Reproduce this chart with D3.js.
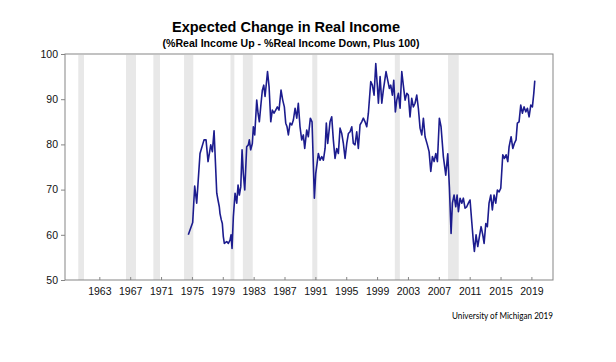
<!DOCTYPE html>
<html>
<head>
<meta charset="utf-8">
<script src="https://cdn.jsdelivr.net/npm/d3@7"></script>
<style>
  body { margin: 0; background: #fff; }
  svg { display: block; font-family: "Liberation Sans", Arial, sans-serif; }
</style>
</head>
<body>
<svg id="chart"></svg>
<script>
// values (decimal year, index value)
const years = [
  1974.53, 1975.10, 1975.36, 1975.62, 1976.05, 1976.57, 1976.83, 1977.09, 1977.44, 1977.65,
  1977.87, 1978.22, 1978.38, 1978.55, 1978.64, 1978.81, 1978.94, 1979.07, 1979.20, 1979.51,
  1979.72, 1979.94, 1980.07, 1980.20, 1980.37, 1980.59, 1980.81, 1980.98, 1981.15, 1981.33,
  1981.50, 1981.66, 1981.85, 1982.10, 1982.31, 1982.44, 1982.62, 1982.83, 1982.96, 1983.14,
  1983.40, 1983.57, 1983.74, 1983.96, 1984.13, 1984.31, 1984.48, 1984.61, 1984.80, 1985.00,
  1985.22, 1985.42, 1985.64, 1985.86, 1986.07, 1986.29, 1986.55, 1986.77, 1986.98, 1987.16,
  1987.33, 1987.50, 1987.72, 1987.94, 1988.15, 1988.37, 1988.59, 1988.79, 1989.01, 1989.23,
  1989.44, 1989.62, 1989.88, 1990.09, 1990.35, 1990.57, 1990.87, 1991.05, 1991.22, 1991.39,
  1991.61, 1991.83, 1992.04, 1992.26, 1992.42, 1992.60, 1992.90, 1993.12, 1993.33, 1993.55,
  1993.77, 1993.98, 1994.20, 1994.42, 1994.63, 1994.85, 1995.07, 1995.28, 1995.50, 1995.72,
  1995.92, 1996.14, 1996.36, 1996.57, 1996.79, 1997.01, 1997.22, 1997.44, 1997.66, 1997.87,
  1998.18, 1998.39, 1998.61, 1998.83, 1999.04, 1999.17, 1999.39, 1999.61, 1999.81, 2000.16,
  2000.33, 2000.59, 2000.77, 2000.98, 2001.16, 2001.37, 2001.55, 2001.76, 2001.98, 2002.20,
  2002.40, 2002.63, 2002.85, 2003.05, 2003.27, 2003.49, 2003.70, 2003.92, 2004.14, 2004.35,
  2004.57, 2004.79, 2005.00, 2005.22, 2005.52, 2005.74, 2005.96, 2006.17, 2006.39, 2006.61,
  2006.82, 2007.07, 2007.29, 2007.59, 2007.90, 2008.16, 2008.37, 2008.59, 2008.76, 2008.98,
  2009.20, 2009.37, 2009.54, 2009.76, 2009.98, 2010.18, 2010.40, 2010.62, 2010.83, 2011.05,
  2011.27, 2011.48, 2011.61, 2011.83, 2012.05, 2012.26, 2012.48, 2012.70, 2012.87, 2013.09,
  2013.29, 2013.51, 2013.74, 2013.94, 2014.16, 2014.38, 2014.59, 2014.81, 2015.03, 2015.29,
  2015.50, 2015.72, 2015.94, 2016.11, 2016.37, 2016.59, 2016.79, 2017.01, 2017.18, 2017.40,
  2017.62, 2017.83, 2018.05, 2018.27, 2018.48, 2018.70, 2018.92, 2019.13, 2019.31, 2019.44
];
const income = [
  60.0, 62.7, 70.8, 67.0, 78.0, 81.0, 81.0, 76.2, 79.9, 78.4,
  83.0, 69.2, 67.7, 66.2, 64.7, 63.3, 62.5, 59.6, 58.1, 58.5,
  58.1, 58.8, 60.0, 57.0, 64.0, 69.2, 67.0, 71.0, 68.8, 70.6,
  78.8, 73.6, 69.9, 79.5, 79.9, 81.0, 78.8, 80.2, 83.9, 82.1,
  89.8, 86.9, 85.0, 89.1, 92.0, 93.1, 90.6, 92.8, 96.1, 92.8,
  85.0, 87.6, 86.9, 87.6, 88.3, 87.6, 92.0, 89.8, 88.3, 84.7,
  83.9, 82.1, 84.7, 84.3, 85.4, 88.0, 85.8, 89.1, 83.9, 81.0,
  82.1, 79.1, 83.2, 81.7, 85.8, 85.0, 68.1, 73.6, 75.8, 78.0,
  76.5, 77.3, 76.5, 79.1, 84.7, 80.2, 85.0, 86.1, 81.0, 76.9,
  79.1, 78.0, 83.6, 82.4, 80.2, 76.9, 80.2, 82.4, 82.8, 83.9,
  80.2, 79.9, 82.8, 79.1, 84.3, 85.0, 85.8, 85.0, 83.9, 86.9,
  93.9, 93.1, 90.9, 97.9, 92.8, 89.1, 95.0, 89.1, 92.0, 96.1,
  94.6, 92.4, 93.1, 90.9, 94.2, 87.2, 89.8, 91.3, 88.0, 96.1,
  93.1, 89.8, 91.3, 90.9, 86.1, 90.2, 88.3, 89.1, 90.9, 88.0,
  83.6, 82.1, 85.8, 81.7, 79.9, 78.4, 74.0, 77.3, 76.2, 78.0,
  76.2, 85.8, 83.9, 77.3, 73.2, 77.9, 70.6, 60.3, 67.0, 68.8,
  66.2, 68.8, 65.1, 68.1, 67.0, 68.1, 65.9, 66.2, 67.0, 67.7,
  62.9, 58.5, 56.3, 60.0, 57.4, 59.6, 61.8, 60.0, 58.1, 62.5,
  61.8, 67.0, 68.8, 65.5, 68.8, 67.0, 69.9, 69.5, 70.3, 77.7,
  76.9, 77.7, 76.2, 79.5, 81.7, 79.1, 80.2, 81.0, 84.7, 85.0,
  88.7, 86.9, 88.3, 87.2, 88.0, 86.1, 88.7, 88.3, 91.3, 94.1
];

// shaded periods
const shadeStart = [1960.27, 1966.46, 1970.0, 1973.98, 1980.0, 1981.6, 1990.6, 2001.3, 2008.2];
const shadeEnd   = [1961.01, 1967.75, 1970.86, 1975.18, 1980.5, 1982.88, 1991.25, 2001.95, 2009.58];

const xTicks = [1963, 1967, 1971, 1975, 1979, 1983, 1987, 1991, 1995, 1999, 2003, 2007, 2011, 2015, 2019];
const yTicks = [50, 60, 70, 80, 90, 100];

const width = 616;
const height = 362;
const margin = { top: 54, right: 63, bottom: 82, left: 65 };

const svg = d3.select('#chart')
    .attr('width', width)
    .attr('height', height);

const x = d3.scaleLinear()
    .domain([1958.55, 2021.8])
    .range([margin.left, width - margin.right]);

const y = d3.scaleLinear()
    .domain([50, 100])
    .range([height - margin.bottom, margin.top]);

// grey bars
svg.append('g')
    .selectAll('rect')
    .data(shadeStart.map((s, i) => [s, shadeEnd[i]]))
    .join('rect')
    .attr('x', d => x(d[0]))
    .attr('width', d => x(d[1]) - x(d[0]))
    .attr('y', y(100) + 1)
    .attr('height', y(50) - y(100) - 1)
    .attr('fill', '#e8e8e8');

// frame round the plot
svg.append('rect')
    .attr('x', x.range()[0])
    .attr('y', y(100))
    .attr('width', x.range()[1] - x.range()[0])
    .attr('height', y(50) - y(100))
    .attr('fill', 'none')
    .attr('stroke', '#858585')
    .attr('stroke-width', 1);

// axes
const yAxis = svg.append('g')
    .attr('transform', `translate(${margin.left},0)`)
    .call(d3.axisLeft(y).tickValues(yTicks).tickSize(4).tickPadding(3));

const xAxis = svg.append('g')
    .attr('transform', `translate(0,${height - margin.bottom})`)
    .call(d3.axisBottom(x).tickValues(xTicks).tickFormat(d3.format('d')).tickSize(-3).tickPadding(8));

[yAxis, xAxis].forEach(a => {
    a.select('.domain').remove();
    a.selectAll('line').attr('stroke', '#858585');
    a.selectAll('text')
        .attr('fill', '#111')
        .style('font-size', '10.5px')
        .style('font-family', '"Liberation Sans", Arial, sans-serif');
});

// the line
const line = d3.line()
    .x((d, i) => x(years[i]))
    .y(d => y(d));

svg.append('path')
    .datum(income)
    .attr('d', line)
    .attr('fill', 'none')
    .attr('stroke', '#1c1c8e')
    .attr('stroke-width', 1.6)
    .attr('stroke-linejoin', 'round');

// titles
svg.append('text')
    .attr('x', 286)
    .attr('y', 32)
    .attr('text-anchor', 'middle')
    .attr('textLength', 228)
    .attr('lengthAdjust', 'spacingAndGlyphs')
    .style('font-size', '15px')
    .style('font-weight', 'bold')
    .attr('fill', '#000')
    .text('Expected Change in Real Income');

svg.append('text')
    .attr('x', 291)
    .attr('y', 47)
    .attr('text-anchor', 'middle')
    .attr('textLength', 257)
    .attr('lengthAdjust', 'spacingAndGlyphs')
    .style('font-size', '10.5px')
    .style('font-weight', 'bold')
    .attr('fill', '#000')
    .text('(%Real Income Up - %Real Income Down, Plus 100)');

// source
svg.append('text')
    .attr('x', 553)
    .attr('y', 319)
    .attr('text-anchor', 'end')
    .attr('textLength', 101)
    .attr('lengthAdjust', 'spacingAndGlyphs')
    .style('font-size', '9px')
    .style('font-family', 'Lato, "Open Sans", sans-serif')
    .attr('fill', '#000')
    .text('University of Michigan 2019');
</script>
</body>
</html>
